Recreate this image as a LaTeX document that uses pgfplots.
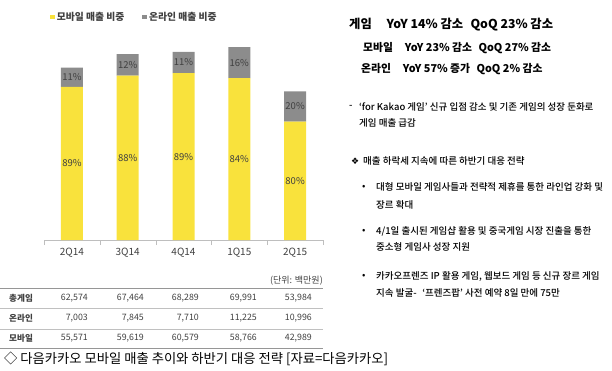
\documentclass[border=0pt]{standalone}
\usepackage{pgfplots}
\pgfplotsset{compat=1.18}
\usepackage{fontspec}
\setmainfont{Noto Sans CJK KR}
\newfontfamily\medfont{Noto Sans CJK KR Medium}
\newfontfamily\dejavu{DejaVu Sans}
\definecolor{kyellow}{RGB}{249,226,60}
\definecolor{kgray}{RGB}{140,140,140}
\definecolor{ktext}{RGB}{64,64,64}
\definecolor{axgray}{RGB}{190,190,190}
\definecolor{linegray}{RGB}{150,150,150}
\newcommand{\fs}[1]{\fontsize{#1}{#1}\selectfont}
\pgfplotsset{sqlegend/.style={legend image code/.code={\fill[##1] (0pt,-2.3pt) rectangle (4.6pt,2.3pt);}}}
\begin{document}
\begin{tikzpicture}[x=1pt,y=1pt]
\path[use as bounding box] (0,0) rectangle (612,-371);
\begin{axis}[
  at={(44pt,-240pt)}, anchor=south west,
  scale only axis, width=279pt, height=220.4pt,
  ybar stacked, bar width=22pt,
  xmin=-0.5, xmax=4.5, ymin=0, ymax=80000,
  axis y line=none, ytick=\empty,
  axis x line=bottom, x axis line style={draw=axgray,-},
  xtick={0,1,2,3,4}, xticklabels={2Q14,3Q14,4Q14,1Q15,2Q15},
  major tick length=0pt,
  minor xtick={-0.5,0.5,1.5,2.5,3.5,4.5}, minor tick length=5pt,
  tick align=outside, tick style={draw=axgray},
  xticklabel style={font=\fs{10}, text=ktext, anchor=center, yshift=-13pt},
  clip=false,
  legend style={at={(axis description cs:0.0215,1.0118)}, anchor=west, draw=none, fill=none,
    legend columns=2, font=\fs{9.8}\bfseries, text=ktext, inner sep=0pt,
    /tikz/every even column/.append style={column sep=16pt}},
  legend cell align=left,
]
\addplot[fill=kyellow, draw=none, sqlegend] coordinates {(0,55571) (1,59619) (2,60579) (3,58766) (4,42989)};
\addplot[fill=kgray, draw=none, sqlegend] coordinates {(0,7003) (1,7845) (2,7710) (3,11225) (4,10996)};
\legend{모바일 매출 비중, 온라인 매출 비중}
\end{axis}
\begin{axis}[
  at={(44pt,-240pt)}, anchor=south west,
  scale only axis, width=279pt, height=220.4pt,
  xmin=-0.5, xmax=4.5, ymin=0, ymax=80000,
  hide axis, clip=false,
]
\addplot[draw=none, mark=none, nodes near coords, point meta=explicit symbolic,
  every node near coord/.append style={anchor=center, font=\fs{9.5}, text=ktext}]
  coordinates {(0,27786)[89\%] (1,29810)[88\%] (2,30290)[89\%] (3,29383)[84\%] (4,21495)[80\%]
               (0,59073)[11\%] (1,63542)[12\%] (2,64434)[11\%] (3,64379)[16\%] (4,48487)[20\%]};
\end{axis}
% table
\draw[linegray, line width=0.6pt] (0,-288) -- (323,-288);
\draw[linegray!60, line width=0.5pt] (0,-308) -- (323,-308);
\draw[linegray!60, line width=0.5pt] (0,-329) -- (323,-329);
\draw[linegray, line width=0.6pt] (0,-348) -- (323,-348);
\node[anchor=east, inner sep=0pt, font=\fs{9}, text=ktext] at (323,-281) {(단위: 백만원)};
\begin{scope}[every node/.style={inner sep=0pt, text=ktext}]
\node[anchor=west, font=\fs{8.6}\bfseries] at (9,-298) {총게임};
\node[anchor=west, font=\fs{8.6}\bfseries] at (9,-318) {온라인};
\node[anchor=west, font=\fs{8.6}\bfseries] at (9,-338) {모바일};
\foreach \x/\a/\b/\c in {88/62{,}574/7{,}003/55{,}571, 144/67{,}464/7{,}845/59{,}619, 199/68{,}289/7{,}710/60{,}579, 257/69{,}991/11{,}225/58{,}766, 312/53{,}984/10{,}996/42{,}989}{
  \node[anchor=east, font=\fs{8.8}] at (\x,-298) {\a};
  \node[anchor=east, font=\fs{8.8}] at (\x,-318) {\b};
  \node[anchor=east, font=\fs{8.8}] at (\x,-338) {\c};
}
\end{scope}
\node[anchor=west, inner sep=0pt, font=\fs{13.3}] at (4,-359) {◇ 다음카카오 모바일 매출 추이와 하반기 대응 전략 [자료=다음카카오]};
% right text
\begin{scope}[every node/.style={inner sep=0pt, anchor=west, text=black}]
\node[font=\fs{12.3}\bfseries] at (349,-25) {게임\hspace{1.2em}YoY 14\% 감소\hspace{0.6em}QoQ 23\% 감소};
\node[font=\fs{10.8}\bfseries] at (363,-48) {모바일\hspace{1.1em}YoY 23\% 감소\hspace{0.6em}QoQ 27\% 감소};
\node[font=\fs{10.8}\bfseries] at (361,-69) {온라인\hspace{1.1em}YoY 57\% 증가\hspace{0.6em}QoQ 2\% 감소};
\begin{scope}[every node/.append style={font=\fs{9.5}\medfont}]
\node at (349,-107) {-};
\node at (359,-107) {‘for Kakao 게임’ 신규 입점 감소 및 기존 게임의 성장 둔화로};
\node at (359,-123) {게임 매출 급감};
\node[font=\fs{9}\dejavu] at (351,-161) {❖};
\node at (363,-161) {매출 하락세 지속에 따른 하반기 대응 전략};
\node at (362,-187) {•};
\node at (376,-187) {대형 모바일 게임사들과 전략적 제휴를 통한 라인업 강화 및};
\node at (376,-205) {장르 확대};
\node at (362,-231) {•};
\node at (376,-231) {4/1일 출시된 게임샵 활용 및 중국게임 시장 진출을 통한};
\node at (376,-247) {중소형 게임사 성장 지원};
\node at (362,-276) {•};
\node at (376,-276) {카카오프렌즈 IP 활용 게임, 웹보드 게임 등 신규 장르 게임};
\node at (376,-293) {지속 발굴-\hspace{0.6em}‘프렌즈팝’ 사전 예약 8일 만에 75만};
\end{scope}
\end{scope}
\end{tikzpicture}
\end{document}
